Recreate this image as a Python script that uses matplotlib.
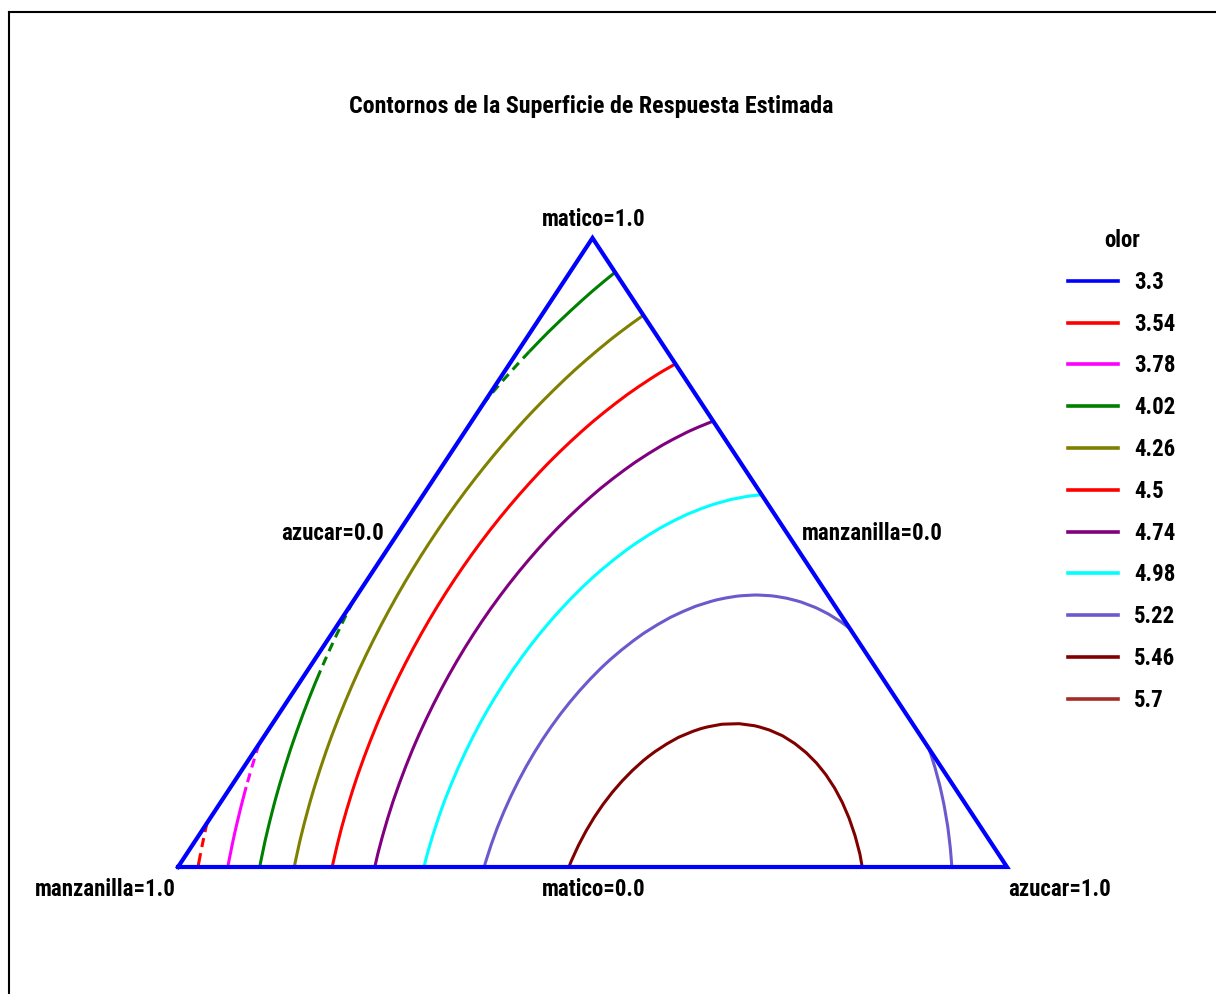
'''
Ternary contour plot of the estimated response surface (olor)
'''
import numpy as np
import matplotlib
matplotlib.use('Agg')
import matplotlib.pyplot as plt
import matplotlib.tri as mtri
from matplotlib.lines import Line2D

# contour levels and their colours, as in the legend
levels = [3.3, 3.54, 3.78, 4.02, 4.26, 4.5, 4.74, 4.98, 5.22, 5.46, 5.7]
level_colors = ['#0000ff', '#ff0000', '#ff00ff', '#008000', '#808000', '#ff0000',
                '#800080', '#00ffff', '#6a5acd', '#800000', '#a52a2a']

# estimated mixture model, coefficients read off the contour crossings
b_manzanilla = 3.37   # pure components
b_matico = 3.81
b_azucar = 5.02
b_manz_azu = 5.25     # binary blends
b_mat_azu = 2.8
b_manz_mat = 1.85
d_manz_azu = 0.3      # cubic terms
d_manz_mat = 0.35
b_ternary = 0.3

title = 'Contornos de la Superficie de Respuesta Estimada'
legend_title = 'olor'
vertex_labels = ['manzanilla=1.0', 'azucar=1.0', 'matico=1.0']
edge_labels = ['matico=0.0', 'manzanilla=0.0', 'azucar=0.0']

FONT = ['Roboto Condensed', 'DejaVu Sans']
FS = 16.5
EM = FS * 100 / 72  # font size in pixels
N_GRID = 48
NEAR_EDGE = 0.015  # contour parts this close to azucar=0 are dashed


def olor_model(z, m, a):
    # z = manzanilla, m = matico, a = azucar
    return (b_manzanilla * z + b_matico * m + b_azucar * a
            + b_manz_azu * z * a + b_mat_azu * m * a + b_manz_mat * z * m
            + d_manz_azu * z * a * (z - a) + d_manz_mat * z * m * (z - m)
            + b_ternary * z * m * a)


def draw_contour_line(ax, xy, color):
    a = xy[:, 0] - xy[:, 1] / 2
    near = a < NEAR_EDGE
    start = 0
    for i in range(1, len(xy) + 1):
        if i == len(xy) or near[i] != near[start]:
            part = xy[start:min(i + 1, len(xy))]
            ls = (0, (3, 2)) if near[start] else '-'
            ax.plot(part[:, 0], part[:, 1], color=color, lw=2.2, ls=ls,
                    solid_capstyle='butt', zorder=2)
            start = i


plt.rcParams['font.family'] = FONT
plt.rcParams['font.weight'] = 'bold'

fig = plt.figure(figsize=(12.16, 9.94), dpi=100)
ax = fig.add_axes([178 / 1216, 127 / 994, 829 / 1216, 629 / 994])
ax.set_xlim(0, 1)
ax.set_ylim(0, 1)
ax.axis('off')

# triangular grid over the simplex
ii, jj = np.meshgrid(np.arange(N_GRID + 1), np.arange(N_GRID + 1))
keep = ii + jj <= N_GRID
matico = ii[keep] / N_GRID
azucar = jj[keep] / N_GRID
manz = np.clip(1 - matico - azucar, 0, None)
x = azucar + matico / 2
y = matico
tri = mtri.Triangulation(x, y)
vals = olor_model(manz, matico, azucar)

cs = ax.tricontour(tri, vals, levels=levels)
paths = cs.get_paths()
cs.remove()
for k, path in enumerate(paths):
    for seg in path.to_polygons(closed_only=False):
        if len(seg) > 1:
            draw_contour_line(ax, np.asarray(seg), level_colors[k])

# triangle
ax.plot([0, 1, 0.5, 0], [0, 0, 1, 0], color='#0000ff', lw=3, clip_on=False,
        zorder=3, solid_joinstyle='miter')

# labels
ax.annotate(vertex_labels[0], (0, 0), xytext=(-1.5, -16.5), textcoords='offset points',
            ha='right', va='center', fontsize=FS, annotation_clip=False)
ax.annotate(vertex_labels[1], (1, 0), xytext=(0.7, -16.5), textcoords='offset points',
            ha='left', va='center', fontsize=FS, annotation_clip=False)
ax.annotate(vertex_labels[2], (0.5, 1), xytext=(1, 13), textcoords='offset points',
            ha='center', va='center', fontsize=FS, annotation_clip=False)
ax.annotate(edge_labels[0], (0.5, 0), xytext=(1, -16.5), textcoords='offset points',
            ha='center', va='center', fontsize=FS, annotation_clip=False)
ax.annotate(edge_labels[1], (0.75, 0.5), xytext=(1.5, 14), textcoords='offset points',
            ha='left', va='center', fontsize=FS, annotation_clip=False)
ax.annotate(edge_labels[2], (0.25, 0.5), xytext=(-1, 14), textcoords='offset points',
            ha='right', va='center', fontsize=FS, annotation_clip=False)

fig.text(591.5 / 1216, 1 - 106 / 994, title, ha='center', va='center', fontsize=17.3)

# legend
handles = [Line2D([], [], color=c, lw=2.6) for c in level_colors]
labels = [f'{v:g}' for v in levels]
leg = fig.legend(handles, labels, title=legend_title, loc='upper left',
                 bbox_to_anchor=(1068 / 1216, 1 - 229 / 994), frameon=False,
                 fontsize=FS, title_fontsize=FS, borderpad=0, borderaxespad=0,
                 handlelength=50 / EM, handletextpad=16 / EM, labelspacing=0.82)
leg.get_title().set_fontweight('bold')

# outer frame (only the left and top edges fall inside the picture)
fig.add_artist(Line2D([8.5 / 1216, 8.5 / 1216], [0, 1 - 12 / 994], color='black', lw=1.5))
fig.add_artist(Line2D([8.5 / 1216, 1], [1 - 12 / 994, 1 - 12 / 994], color='black', lw=1.5))

fig.savefig('out.png', dpi=100)
